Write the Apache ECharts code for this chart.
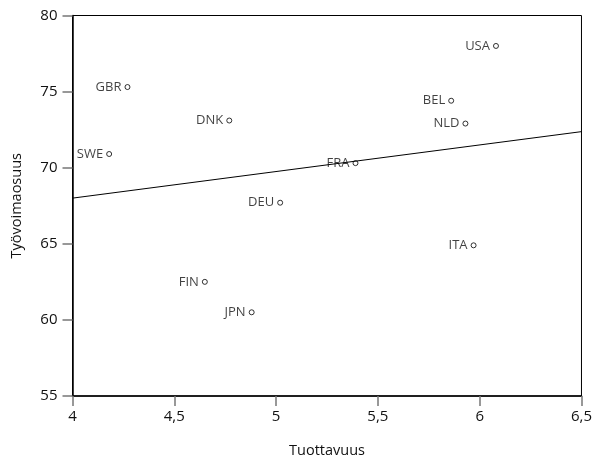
<!DOCTYPE html>
<html>
<head>
<meta charset="utf-8">
<script src="https://cdn.jsdelivr.net/npm/echarts@6/dist/echarts.min.js"></script>
<style>html,body{margin:0;padding:0;background:#fff}#c{width:595px;height:466px}</style>
</head>
<body>
<div id="c"></div>
<script>
var countries = ['GBR','DNK','SWE','DEU','USA','BEL','NLD','FRA','FIN','JPN','ITA'];
var productivity = [4.27, 4.77, 4.18, 5.02, 6.08, 5.86, 5.93, 5.39, 4.65, 4.88, 5.97];
var participation = [75.3, 73.1, 70.9, 67.7, 78.0, 74.4, 72.9, 70.3, 62.5, 60.5, 64.9];
var trendX = [4, 6.5];
var trendY = [68.0, 72.37];

var FONT = '"Open Sans", "Noto Sans", sans-serif';
var points = countries.map(function (c, i) { return { name: c, value: [productivity[i], participation[i]] }; });
var trend = trendX.map(function (x, i) { return [x, trendY[i]]; });

var chart = echarts.init(document.getElementById('c'));
chart.setOption({
  animation: false,
  backgroundColor: '#fff',
  grid: { left: 72.5, right: 11, top: 15.5, bottom: 70, show: true, borderColor: '#000', borderWidth: 1 },
  xAxis: {
    type: 'value', min: 4, max: 6.5, interval: 0.5,
    name: 'Tuottavuus', nameLocation: 'middle', nameGap: 47,
    nameTextStyle: { fontFamily: FONT, fontSize: 14.5, color: '#111' },
    axisLine: { show: true, lineStyle: { color: '#000', width: 1.5 } },
    axisTick: { show: true, length: 10, lineStyle: { color: '#777', width: 1.5 } },
    axisLabel: { fontFamily: FONT, fontSize: 15, color: '#111', margin: 13,
      formatter: function (v) { return String(v).replace('.', ','); } },
    splitLine: { show: false }
  },
  yAxis: {
    type: 'value', min: 55, max: 80, interval: 5,
    name: 'Työvoimaosuus', nameLocation: 'middle', nameGap: 48,
    nameTextStyle: { fontFamily: FONT, fontSize: 14.5, color: '#111' },
    axisLine: { show: true, lineStyle: { color: '#000', width: 1.5 } },
    axisTick: { show: true, length: 10, lineStyle: { color: '#777', width: 1.5 } },
    axisLabel: { fontFamily: FONT, fontSize: 15, color: '#111', margin: 15 },
    splitLine: { show: false }
  },
  series: [
    {
      type: 'line', data: trend, symbol: 'none', silent: true,
      lineStyle: { color: '#000', width: 1 }
    },
    {
      type: 'scatter', data: points, symbol: 'circle', symbolSize: 5,
      itemStyle: { color: '#fff', borderColor: '#000', borderWidth: 1 },
      label: { show: true, position: 'left', distance: 3, formatter: '{b}',
        fontFamily: FONT, fontSize: 13, color: '#111' }
    }
  ]
});
</script>
</body>
</html>
